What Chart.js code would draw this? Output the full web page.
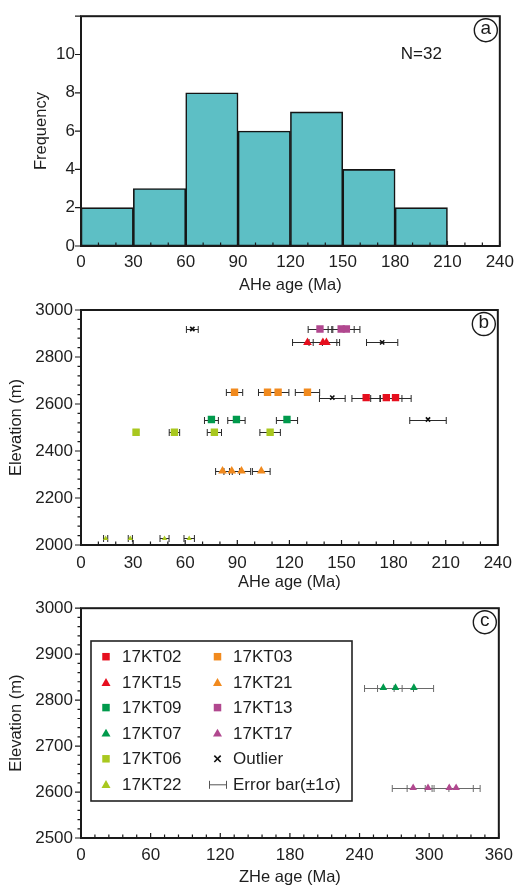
<!DOCTYPE html>
<html>
<head>
<meta charset="utf-8">
<script src="https://cdn.jsdelivr.net/npm/chart.js@4/dist/chart.umd.min.js"></script>
<style>
html,body{margin:0;padding:0;background:#fff;}
#wrap{position:relative;width:520px;height:890px;overflow:hidden;background:#fff;}
canvas{position:absolute;left:0;}
</style>
</head>
<body>
<div id="wrap">
  <canvas id="ca" width="520" height="300" style="top:0px"></canvas>
  <canvas id="cb" width="520" height="310" style="top:290px"></canvas>
  <canvas id="cc" width="520" height="300" style="top:590px"></canvas>
</div>
<script>
// ---------------- DATA ----------------
// Panel (a): AHe age histogram
const binEdges  = [0, 30, 60, 90, 120, 150, 180, 210, 240];
const binCounts = [2, 3, 8, 6, 7, 4, 2, 0];
const histNote  = 'N=32';

// Panel (b): AHe age vs elevation
const kt02Age = [164.2, 175.8, 181.1]; const kt02Err = [8.2, 9.0, 9.0];  const kt02Elev = 2627;
const kt15Age = [130.4, 139.3, 141.3]; const kt15Err = [8.6, 8.0, 7.6];  const kt15Elev = 2862;
const kt09Age = [75.1, 89.5, 118.6];   const kt09Err = [4.0, 5.0, 6.1];  const kt09Elev = 2534;
const kt06Age = [31.7, 53.8, 76.8, 108.9]; const kt06Err = [1.5, 3.0, 4.1, 5.9]; const kt06Elev = 2480;
const kt03Age = [88.4, 107.4, 113.5, 130.4]; const kt03Err = [4.7, 5.2, 6.2, 7.0]; const kt03Elev = 2650;
const kt21Age = [81.5, 86.8, 92.4, 103.8]; const kt21Err = [4.0, 4.5, 5.3, 5.1]; const kt21Elev = 2315;
const kt13Age = [137.6, 149.8, 152.8]; const kt13Err = [6.8, 7.5, 7.8];  const kt13Elev = 2919;
const kt22Age = [14.2, 28.4, 48.1, 62.3]; const kt22Err = [1.2, 1.2, 2.6, 3.0]; const kt22Elev = 2028;
const outAge  = [64.1, 173.4, 144.7, 199.8];
const outErr  = [3.4, 9.0, 7.4, 10.5];
const outElev = [2919, 2862, 2627, 2534];

// Panel (c): ZHe age vs elevation
const kt07Age = [260.5, 271.0, 286.8]; const kt07Err = [16.2, 15.5, 17.0]; const kt07Elev = 2827;
const kt17Age = [286.2, 299.0, 317.3, 323.2]; const kt17Err = [18.0, 18.0, 20.7, 20.7]; const kt17Elev = 2609;

// Tick settings
const histXTicks = [0, 240, 30];   // min, max, step
const histYTicks = [0, 12, 2];
const bXTicks = [0, 240, 30];
const bYTicks = [2000, 3000, 200];
const cXTicks = [0, 360, 60];
const cYTicks = [2500, 3000, 100];

// ---------------- STYLE ----------------
const FONT = "'Liberation Sans', Arial, Helvetica, sans-serif";
Chart.defaults.font.family = FONT;
Chart.defaults.font.size = 17;
Chart.defaults.color = '#1e1e1e';

const RED = '#e60f1e', ORANGE = '#f18a1e', GREEN = '#009a4c', YG = '#a9c81f', MAG = '#b1488f', TEAL = '#5dbfc5';

// ---------------- PLUGINS ----------------
function isMultiple(v, step) { const r = v / step; return Math.abs(r - Math.round(r)) < 1e-6; }

const framePlugin = {
  id: 'frame',
  afterDraw(chart, args, o) {
    const {ctx, chartArea: a} = chart;
    const x = chart.scales.x, y = chart.scales.y;
    ctx.save();
    ctx.strokeStyle = '#1a1a1a';
    ctx.lineWidth = 1.2;
    ctx.beginPath();
    for (let v = x.min; v <= x.max + 1e-9; v += o.xMinor) {
      const px = x.getPixelForValue(v);
      const len = isMultiple(v, o.xMajor) ? 5 : 3.5;
      ctx.moveTo(px, a.bottom); ctx.lineTo(px, a.bottom - len);
    }
    for (let v = y.min; v <= y.max + 1e-9; v += o.yMinor) {
      const py = y.getPixelForValue(v);
      const len = isMultiple(v, o.yMajor) ? 6 : 3.5;
      ctx.moveTo(a.left, py); ctx.lineTo(a.left - len, py);
    }
    ctx.stroke();
    ctx.lineWidth = 2;
    ctx.strokeRect(a.left, a.top, a.right - a.left, a.bottom - a.top);
    // panel letter in circle
    const cx = a.right - 14, cy = a.top + 14;
    ctx.lineWidth = 1.4;
    ctx.beginPath(); ctx.arc(cx, cy, 11.5, 0, Math.PI * 2); ctx.stroke();
    ctx.fillStyle = '#1a1a1a';
    ctx.font = '19px ' + FONT;
    ctx.textAlign = 'center'; ctx.textBaseline = 'middle';
    ctx.fillText(o.label, cx, cy - 1);
    if (o.note) {
      ctx.font = '17px ' + FONT;
      ctx.fillText(o.note, x.getPixelForValue(o.noteX), y.getPixelForValue(o.noteY));
    }
    ctx.restore();
  }
};

const errPlugin = {
  id: 'errbars',
  beforeDatasetsDraw(chart, args, o) {
    const {ctx} = chart;
    const x = chart.scales.x;
    ctx.save();
    ctx.strokeStyle = o.color;
    ctx.lineWidth = 1;
    chart.data.datasets.forEach((ds, i) => {
      if (!ds.errors) return;
      const meta = chart.getDatasetMeta(i);
      meta.data.forEach((pt, j) => {
        const v = ds.data[j].x, e = ds.errors[j];
        const x0 = x.getPixelForValue(v - e), x1 = x.getPixelForValue(v + e);
        const yy = Math.round(pt.y) + 0.5;
        ctx.beginPath();
        ctx.moveTo(x0, yy); ctx.lineTo(x1, yy);
        ctx.moveTo(x0, yy - 3.5); ctx.lineTo(x0, yy + 3.5);
        ctx.moveTo(x1, yy - 3.5); ctx.lineTo(x1, yy + 3.5);
        ctx.stroke();
      });
    });
    ctx.restore();
  }
};

// legend entries for panel (c)
const legendCol1 = [
  {text: '17KT02', style: 'rect', color: RED},
  {text: '17KT15', style: 'triangle', color: RED},
  {text: '17KT09', style: 'rect', color: GREEN},
  {text: '17KT07', style: 'triangle', color: GREEN},
  {text: '17KT06', style: 'rect', color: YG},
  {text: '17KT22', style: 'triangle', color: YG}
];
const legendCol2 = [
  {text: '17KT03', style: 'rect', color: ORANGE},
  {text: '17KT21', style: 'triangle', color: ORANGE},
  {text: '17KT13', style: 'rect', color: MAG},
  {text: '17KT17', style: 'triangle', color: MAG},
  {text: 'Outlier', style: 'crossRot', color: '#111'},
  {text: 'Error bar(\u00b11\u03c3)', style: 'err', color: '#555'}
];

const legendPlugin = {
  id: 'boxlegend',
  afterDraw(chart, args, o) {
    const {ctx} = chart;
    const top = chart.canvas.offsetTop;
    ctx.save();
    const bx = 91, by = 641 - 590, bw = 261, bh = 160;
    ctx.fillStyle = '#fff';
    ctx.fillRect(bx, by, bw, bh);
    ctx.strokeStyle = '#222'; ctx.lineWidth = 1.6;
    ctx.strokeRect(bx, by, bw, bh);
    ctx.font = '17px ' + FONT;
    ctx.textAlign = 'left'; ctx.textBaseline = 'middle';
    const rows = [656.7, 682.3, 707.6, 733, 758.8, 784.3].map(v => v - 590);
    const cols = [[legendCol1, 106, 122], [legendCol2, 217.5, 233]];
    cols.forEach(([items, mx, tx]) => {
      items.forEach((it, k) => {
        const yy = rows[k];
        ctx.fillStyle = it.color; ctx.strokeStyle = it.color;
        if (it.style === 'err') {
          ctx.lineWidth = 1;
          ctx.beginPath();
          ctx.moveTo(209.5, yy + 0.5); ctx.lineTo(226.5, yy + 0.5);
          ctx.moveTo(209.5, yy - 3.5); ctx.lineTo(209.5, yy + 4.5);
          ctx.moveTo(226.5, yy - 3.5); ctx.lineTo(226.5, yy + 4.5);
          ctx.stroke();
        } else if (it.style === 'crossRot') {
          ctx.lineWidth = 1.6;
          Chart.helpers.drawPoint(ctx, {pointStyle: 'crossRot', radius: 4.5, rotation: 0, borderWidth: 1.6}, mx, yy);
        } else {
          ctx.lineWidth = 0;
          const r = it.style === 'rect' ? 5.3 : 5.2;
          Chart.helpers.drawPoint(ctx, {pointStyle: it.style, radius: r, rotation: 0, borderWidth: 0}, mx, yy + (it.style === 'triangle' ? 1 : 0));
        }
        ctx.fillStyle = '#1e1e1e';
        ctx.fillText(it.text, tx, yy + 1);
      });
    });
    ctx.restore();
  }
};

// ---------------- HELPERS ----------------
function series(label, ages, errs, elev, style, color, radius) {
  return {
    label,
    data: ages.map((a, i) => ({x: a, y: Array.isArray(elev) ? elev[i] : elev})),
    errors: errs,
    pointStyle: style,
    pointRadius: radius,
    pointBackgroundColor: color,
    pointBorderColor: color,
    pointBorderWidth: style === 'crossRot' ? 1.6 : 0,
    showLine: false
  };
}

function xScale(t, title, pad, h, titlePadBottom) {
  return {
    type: 'linear', min: t[0], max: t[1], offset: false,
    ticks: {stepSize: t[2], padding: pad, autoSkip: false, maxRotation: 0, font: {size: 17}},
    grid: {display: false, drawTicks: false},
    border: {display: false},
    title: {display: true, text: title, font: {size: 16.5}, padding: {top: 0, bottom: titlePadBottom}},
    afterFit(s) { s.height = h; }
  };
}
function yScale(t, title, pad, titlePad, hideTop) {
  return {
    type: 'linear', min: t[0], max: t[1],
    ticks: {stepSize: t[2], padding: pad, autoSkip: false, font: {size: 17},
            callback: (v) => (hideTop && v === t[1]) ? '' : v},
    grid: {display: false, drawTicks: false},
    border: {display: false},
    title: {display: true, text: title, font: {size: 16.5}, padding: {top: titlePad, bottom: 0}},
    afterFit(s) { s.width = 81; }
  };
}

const common = {
  responsive: false, animation: false, devicePixelRatio: 1,
  events: []
};

// ---------------- PANEL A ----------------
const binCenters = binCounts.map((c, i) => (binEdges[i] + binEdges[i + 1]) / 2);
new Chart(document.getElementById('ca'), {
  type: 'bar',
  data: {
    datasets: [{
      data: binCounts.map((c, i) => ({x: binCenters[i], y: c})),
      backgroundColor: TEAL,
      borderColor: '#151515',
      borderWidth: 1.6,
      borderSkipped: false,
      barPercentage: 1.0,
      categoryPercentage: 1.0
    }]
  },
  options: Object.assign({}, common, {
    layout: {padding: {left: 0, right: 19, top: 10, bottom: 0}},
    plugins: {legend: {display: false}, tooltip: {enabled: false},
      frame: {xMinor: 10, xMajor: 30, yMinor: 2, yMajor: 2, label: 'a', note: histNote, noteX: 195, noteY: 10}},
    scales: {
      x: xScale(histXTicks, 'AHe age (Ma)', 6, 54, 4.4),
      y: Object.assign(yScale(histYTicks, 'Frequency', 6, 32, true), {beginAtZero: true})
    }
  }),
  plugins: [framePlugin]
});

// ---------------- PANEL B ----------------
new Chart(document.getElementById('cb'), {
  type: 'scatter',
  data: {
    datasets: [
      series('17KT13', kt13Age, kt13Err, kt13Elev, 'rect', MAG, 5.2),
      series('17KT15', kt15Age, kt15Err, kt15Elev, 'triangle', RED, 5),
      series('17KT03', kt03Age, kt03Err, kt03Elev, 'rect', ORANGE, 5.2),
      series('17KT02', kt02Age, kt02Err, kt02Elev, 'rect', RED, 5.2),
      series('17KT09', kt09Age, kt09Err, kt09Elev, 'rect', GREEN, 5.2),
      series('17KT06', kt06Age, kt06Err, kt06Elev, 'rect', YG, 5.2),
      series('17KT21', kt21Age, kt21Err, kt21Elev, 'triangle', ORANGE, 5),
      series('17KT22', kt22Age, kt22Err, kt22Elev, 'triangle', YG, 3),
      series('Outlier', outAge, outErr, outElev, 'crossRot', '#111', 3)
    ]
  },
  options: Object.assign({}, common, {
    layout: {padding: {left: 0, right: 18, top: 20, bottom: 0}},
    plugins: {legend: {display: false}, tooltip: {enabled: false},
      frame: {xMinor: 10, xMajor: 30, yMinor: 40, yMajor: 200, label: 'b'},
      errbars: {color: '#2a2a2a'}},
    scales: {
      x: xScale(bXTicks, 'AHe age (Ma)', 8, 55, 7.4),
      y: yScale(bYTicks, 'Elevation (m)', 8, 7, false)
    }
  }),
  plugins: [errPlugin, framePlugin]
});

// ---------------- PANEL C ----------------
new Chart(document.getElementById('cc'), {
  type: 'scatter',
  data: {
    datasets: [
      series('17KT07', kt07Age, kt07Err, kt07Elev, 'triangle', GREEN, 4.4),
      series('17KT17', kt17Age, kt17Err, kt17Elev, 'triangle', MAG, 4.4)
    ]
  },
  options: Object.assign({}, common, {
    layout: {padding: {left: 0, right: 18, top: 13, bottom: 0}},
    plugins: {legend: {display: false}, tooltip: {enabled: false},
      frame: {xMinor: 12, xMajor: 60, yMinor: 20, yMajor: 100, label: 'c'},
      errbars: {color: '#6a6a6a'}},
    scales: {
      x: xScale(cXTicks, 'ZHe age (Ma)', 7, 52, 2.4),
      y: yScale(cYTicks, 'Elevation (m)', 8, 7, false)
    }
  }),
  plugins: [errPlugin, framePlugin, legendPlugin]
});
</script>
</body>
</html>
